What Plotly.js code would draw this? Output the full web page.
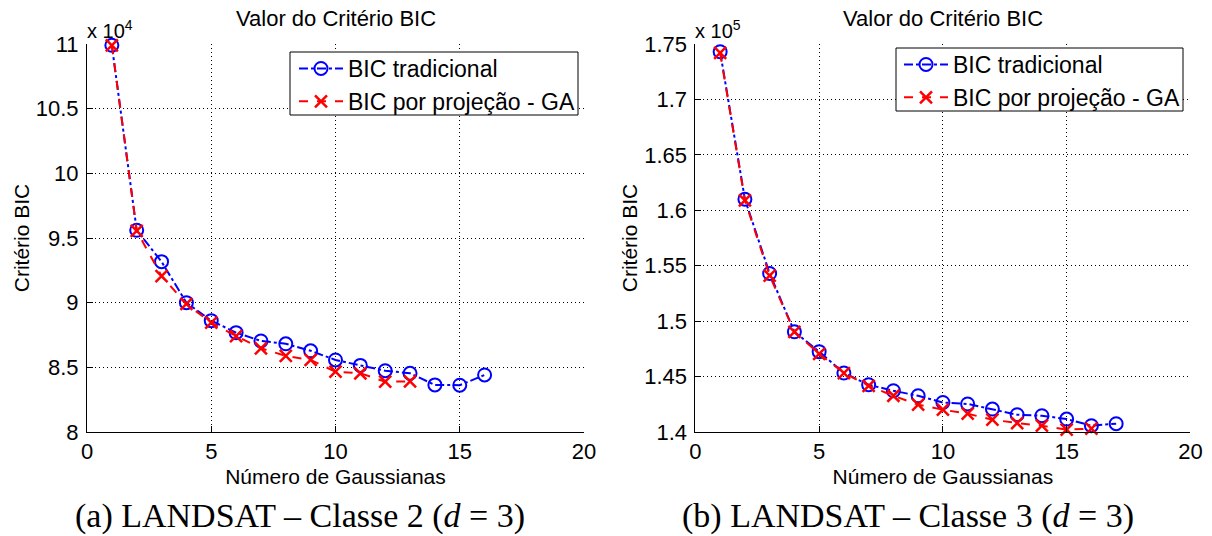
<!DOCTYPE html>
<html>
<head>
<meta charset="utf-8">
<script src="https://cdn.plot.ly/plotly-3.0.1.min.js"></script>
<style>
  html, body { margin: 0; padding: 0; background: #fff; }
  #chart { width: 1212px; height: 536px; }
</style>
</head>
<body>
<div id="chart"></div>
<script>
// ---- Data (values as displayed on the axes, i.e. in units of the axis multiplier) ----
const numGaussA_trad = [1, 2, 3, 4, 5, 6, 7, 8, 9, 10, 11, 12, 13, 14, 15, 16];
const bicTradA = [10.99, 9.56, 9.317, 9.0, 8.861, 8.768, 8.704, 8.682, 8.628, 8.557, 8.515, 8.474, 8.454, 8.364, 8.362, 8.441];
const numGaussA_proj = [1, 2, 3, 4, 5, 6, 7, 8, 9, 10, 11, 12, 13];
const bicProjA = [10.99, 9.555, 9.206, 8.99, 8.845, 8.742, 8.647, 8.588, 8.557, 8.466, 8.454, 8.389, 8.392];

const numGaussB_trad = [1, 2, 3, 4, 5, 6, 7, 8, 9, 10, 11, 12, 13, 14, 15, 16, 17];
const bicTradB = [1.743, 1.610, 1.543, 1.4904, 1.4725, 1.4532, 1.4426, 1.4372, 1.4327, 1.4266, 1.4253, 1.4207, 1.4156, 1.4147, 1.4117, 1.4057, 1.4075];
const numGaussB_proj = [1, 2, 3, 4, 5, 6, 7, 8, 9, 10, 11, 12, 13, 14, 15, 16];
const bicProjB = [1.742, 1.609, 1.541, 1.4904, 1.4705, 1.4532, 1.4417, 1.4327, 1.4246, 1.4201, 1.4165, 1.4111, 1.4081, 1.4057, 1.4021, 1.4030];

const xTickVals = [0, 5, 10, 15, 20];
const xTickText = ['0', '5', '10', '15', '20'];
const yTickValsA = [8, 8.5, 9, 9.5, 10, 10.5, 11];
const yTickTextA = ['8', '8.5', '9', '9.5', '10', '10.5', '11'];
const yTickValsB = [1.4, 1.45, 1.5, 1.55, 1.6, 1.65, 1.7, 1.75];
const yTickTextB = ['1.4', '1.45', '1.5', '1.55', '1.6', '1.65', '1.7', '1.75'];

const seriesNames = ['BIC tradicional', 'BIC por projeção - GA'];
const plotTitle = 'Valor do Critério BIC';
const xTitle = 'Número de Gaussianas';
const yTitle = 'Critério BIC';
const multipliers = ['x 10<sup>4</sup>', 'x 10<sup>5</sup>'];
const captions = ['(a) LANDSAT – Classe 2 (<i>d</i> = 3)', '(b) LANDSAT – Classe 3 (<i>d</i> = 3)'];

// ---- Styles ----
const SANS = 'Liberation Sans, Arial, sans-serif';
const SERIF = 'Liberation Serif, Times New Roman, serif';
const blueStyle = {
  mode: 'lines+markers',
  line: { color: '#0000ff', width: 2, dash: 'dashdot' },
  marker: { symbol: 'circle-open', size: 13, color: '#0000ff', line: { color: '#0000ff', width: 2 } },
  cliponaxis: false
};
const redStyle = {
  mode: 'lines+markers',
  line: { color: '#ff0000', width: 2, dash: 'dash' },
  marker: { symbol: 'x-thin-open', size: 12, color: '#ff0000', line: { color: '#ff0000', width: 2.5 } },
  cliponaxis: false
};
function styled(base, extra) { return Object.assign(JSON.parse(JSON.stringify(base)), extra); }

const traces = [
  styled(blueStyle, { x: numGaussA_trad, y: bicTradA, name: seriesNames[0], xaxis: 'x', yaxis: 'y', legend: 'legend' }),
  styled(redStyle,  { x: numGaussA_proj, y: bicProjA, name: seriesNames[1], xaxis: 'x', yaxis: 'y', legend: 'legend' }),
  styled(blueStyle, { x: numGaussB_trad, y: bicTradB, name: seriesNames[0], xaxis: 'x2', yaxis: 'y2', legend: 'legend2' }),
  styled(redStyle,  { x: numGaussB_proj, y: bicProjB, name: seriesNames[1], xaxis: 'x2', yaxis: 'y2', legend: 'legend2' })
];

const W = 1212, H = 536;
const yDom = [(H - 432) / H, (H - 44) / H];

function xAxis(domain, anchor) {
  return {
    domain: domain, anchor: anchor, range: [0, 20],
    tickmode: 'array', tickvals: xTickVals, ticktext: xTickText,
    ticks: 'inside', ticklen: 6, tickcolor: '#000', tickwidth: 1,
    showline: true, linecolor: '#000', linewidth: 1, mirror: false,
    showgrid: true, gridcolor: '#000', gridwidth: 1, griddash: '1px,3px',
    zeroline: false, fixedrange: true,
    tickfont: { family: SANS, size: 22, color: '#000' },
    title: { text: xTitle, font: { family: SANS, size: 21, color: '#000' }, standoff: 5 },
    automargin: false
  };
}
function yAxis(domain, anchor, range, vals, text) {
  return {
    domain: domain, anchor: anchor, range: range,
    tickmode: 'array', tickvals: vals, ticktext: text,
    ticks: 'inside', ticklen: 6, tickcolor: '#000', tickwidth: 1,
    showline: true, linecolor: '#000', linewidth: 1, mirror: false,
    showgrid: true, gridcolor: '#000', gridwidth: 1, griddash: '1px,3px',
    zeroline: false, fixedrange: true,
    tickfont: { family: SANS, size: 22, color: '#000' },
    ticklabelstandoff: 3,
    title: { text: yTitle, font: { family: SANS, size: 21, color: '#000' }, standoff: 0 },
    automargin: false
  };
}

const legendBase = {
  bgcolor: 'rgba(0,0,0,0)', borderwidth: 0,
  font: { family: SANS, size: 23, color: '#000' },
  xanchor: 'right', yanchor: 'top', tracegroupgap: 0, itemwidth: 44
};

// legend frames (pixel boxes in the figure), drawn opaque above the grid; legend text sits on top
const boxA = { x0: 290, x1: 578, y0: 52, y1: 115 };
const boxB = { x0: 896, x1: 1183, y0: 48, y1: 111 };
function frame(b) {
  return { type: 'rect', xref: 'paper', yref: 'paper', layer: 'above',
    x0: b.x0 / W, x1: b.x1 / W, y0: 1 - b.y1 / H, y1: 1 - b.y0 / H,
    line: { color: '#000', width: 1 }, fillcolor: '#fff' };
}

const layout = {
  width: W, height: H,
  margin: { l: 0, r: 0, t: 0, b: 0 },
  paper_bgcolor: '#fff', plot_bgcolor: '#fff',
  showlegend: true,
  xaxis: xAxis([87 / W, 584 / W], 'y'),
  yaxis: yAxis(yDom, 'x', [8, 11], yTickValsA, yTickTextA),
  xaxis2: xAxis([695.4 / W, 1190.4 / W], 'y2'),
  yaxis2: yAxis(yDom, 'x2', [1.4, 1.75], yTickValsB, yTickTextB),
  legend: Object.assign({ x: 580 / W, y: 1 - 47 / H }, legendBase),
  legend2: Object.assign({ x: 1185 / W, y: 1 - 43 / H }, legendBase),
  shapes: [frame(boxA), frame(boxB)],
  annotations: [
    { xref: 'x domain', yref: 'paper', x: 0.5, y: 1 - 18 / H, text: plotTitle, showarrow: false,
      xanchor: 'center', yanchor: 'middle', font: { family: SANS, size: 22, color: '#000' } },
    { xref: 'x2 domain', yref: 'paper', x: 0.5, y: 1 - 18 / H, text: plotTitle, showarrow: false,
      xanchor: 'center', yanchor: 'middle', font: { family: SANS, size: 22, color: '#000' } },
    { xref: 'x domain', yref: 'paper', x: 0, y: 1 - 30 / H, text: multipliers[0], showarrow: false,
      xanchor: 'left', yanchor: 'middle', xshift: -2, font: { family: SANS, size: 20, color: '#000' } },
    { xref: 'x2 domain', yref: 'paper', x: 0, y: 1 - 30 / H, text: multipliers[1], showarrow: false,
      xanchor: 'left', yanchor: 'middle', xshift: -2, font: { family: SANS, size: 20, color: '#000' } },
    { xref: 'paper', yref: 'paper', x: 300 / W, y: 1 - 516 / H, text: captions[0], showarrow: false,
      xanchor: 'center', yanchor: 'middle', font: { family: SERIF, size: 34, color: '#000' } },
    { xref: 'paper', yref: 'paper', x: 908 / W, y: 1 - 516 / H, text: captions[1], showarrow: false,
      xanchor: 'center', yanchor: 'middle', font: { family: SERIF, size: 34, color: '#000' } }
  ]
};

Plotly.newPlot('chart', traces, layout, { staticPlot: true, displayModeBar: false });
</script>
</body>
</html>
